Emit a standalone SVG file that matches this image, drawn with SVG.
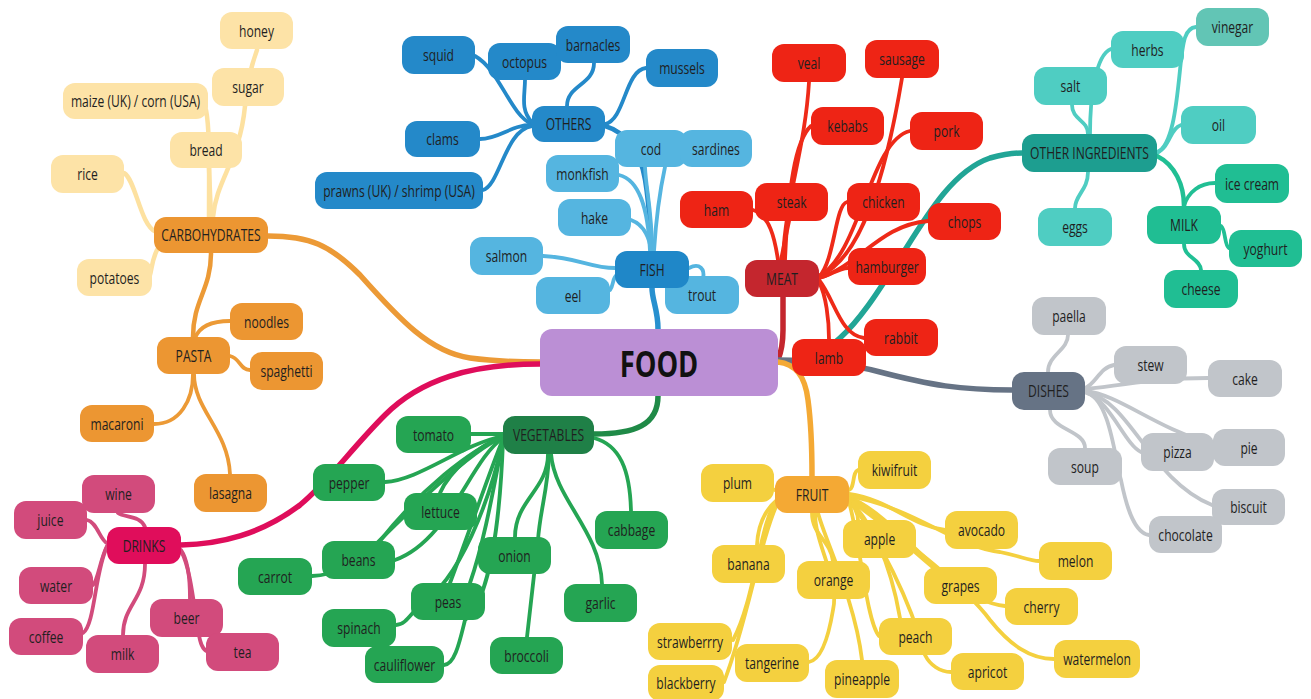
<svg xmlns="http://www.w3.org/2000/svg" width="1311" height="699" viewBox="0 0 1311 699">
<style>
rect{rx:12px;ry:12px}
text{font-family:"Open Sans","Noto Sans","DejaVu Sans",sans-serif;font-size:15.5px;fill:#1f1f1f;text-anchor:middle;dominant-baseline:central;transform-box:fill-box;transform-origin:center;transform:scaleX(0.78)}
#connectors path{fill:none;stroke-linecap:round}
.w5{stroke-width:5.5}.w4{stroke-width:4.5}.w3{stroke-width:3.8}
.s-cl{stroke:#fde1a0}.s-co{stroke:#ec9a36}.s-cb{stroke:#2489c9}.s-cf{stroke:#55b5e0}.s-fm{stroke:#2790cf}
.s-cm{stroke:#ee2a18}.s-mm{stroke:#c4262e}.s-ct{stroke:#4fcdc2}.s-mk{stroke:#21bf94}.s-oi{stroke:#21a596}
.s-cd{stroke:#c1c5ca}.s-dm{stroke:#667385}.s-cfr{stroke:#f4d03f}.s-frm{stroke:#f4a934}
.s-cv{stroke:#25a553}.s-vm{stroke:#1f8a47}.s-cdr{stroke:#d24b7c}.s-drm{stroke:#df0d5b}
.f-cl rect{fill:#fde3a7}.f-co rect{fill:#ec9632}.f-cb rect{fill:#2489c9}.f-cf rect{fill:#55b5e0}.f-fm rect{fill:#1f87c8}
.f-cm rect{fill:#ee2415}.f-mm rect{fill:#c4262e}.f-ct rect{fill:#4fcdc2}.f-vin rect{fill:#62c5b5}.f-oi rect{fill:#1d9e90}.f-mk rect{fill:#20be93}
.f-cd rect{fill:#c1c5ca}.f-dm rect{fill:#667385}.f-cfr rect{fill:#f4d03f}.f-frm rect{fill:#f4a934}
.f-cv rect{fill:#25a553}.f-vm rect{fill:#1f8047}.f-cdr rect{fill:#d24b7c}.f-drm rect{fill:#e00d5b}
.f-food rect{fill:#bb8fd5}
.f-food text{font-size:35px;font-weight:bold;fill:#111}
</style>
<g id="connectors">
<!-- main branches -->
<path class="w5 s-co" d="M268,236 C310,236 330,245 360,275 C400,320 430,352 470,358 C500,362 520,362 540,362"/>
<path class="w5 s-drm" d="M540,364 C470,364 420,380 385,415 C350,450 330,480 300,505 C260,535 220,544 181,545"/>
<path class="w5 s-vm" d="M658,396 C658,425 635,434 594,434"/>
<path class="w5 s-fm" d="M652,288 C652,300 658,310 658,329"/>
<path class="w5 s-mm" d="M783,297 L783,330 C783,345 780,355 778,360"/>
<path class="w5 s-oi" d="M778,362 C810,362 825,352 840,338 C865,315 885,280 905,250 C930,210 955,170 990,158 C1005,154 1015,153 1022,153"/>
<path class="w5 s-dm" d="M778,360 C820,360 850,364 880,372 C930,385 960,390 1012,390"/>
<path class="w5 s-frm" d="M778,362 C795,364 805,375 808,400 C812,430 812,460 812,476"/>
<!-- carbohydrates -->
<path class="w4 s-cl" d="M211,217 L209,168"/>
<path class="w4 s-cl" d="M209,217 C209,170 210,130 206,110"/>
<path class="w4 s-cl" d="M213,217 C216,180 240,160 245,106"/>
<path class="w4 s-cl" d="M245,106 C246,90 248,75 257,50"/>
<path class="w4 s-cl" d="M156,232 C140,225 136,180 124,173"/>
<path class="w4 s-cl" d="M157,250 C152,260 152,268 150,275"/>
<path class="w4 s-co" d="M211,253 C211,290 193,300 193,337"/>
<path class="w3 s-co" d="M195,338 C200,325 215,321 230,321"/>
<path class="w3 s-co" d="M230,356 C240,358 240,370 250,370"/>
<path class="w3 s-co" d="M193,374 C193,400 180,424 154,424"/>
<path class="w3 s-co" d="M194,374 C194,410 228,430 230,474"/>
<!-- others -->
<path class="w4 s-cb" d="M605,126 C625,132 640,150 645,180 C650,210 650,235 652,251"/>
<path class="w3 s-cb" d="M532,124 C510,115 500,70 475,56"/>
<path class="w3 s-cb" d="M532,122 C520,110 525,95 525,80"/>
<path class="w3 s-cb" d="M567,106 C567,85 594,85 594,63"/>
<path class="w3 s-cb" d="M605,124 C625,120 625,70 646,68"/>
<path class="w3 s-cb" d="M532,125 C510,125 500,139 480,139"/>
<path class="w3 s-cb" d="M532,126 C505,130 500,185 483,190"/>
<!-- fish -->
<path class="w3 s-cf" d="M652,251 C652,210 646,190 645,167"/>
<path class="w3 s-cf" d="M654,251 C656,220 660,190 665,167"/>
<path class="w3 s-cf" d="M619,175 C640,180 648,210 650,251"/>
<path class="w3 s-cf" d="M631,220 C645,225 650,240 651,251"/>
<path class="w3 s-cf" d="M543,256 C580,258 590,268 615,268"/>
<path class="w3 s-cf" d="M610,290 C614,285 612,278 617,275"/>
<path class="w3 s-cf" d="M689,268 C700,262 705,270 703,278"/>
<!-- meat -->
<path class="w3 s-cm" d="M783,260 C785,200 805,150 809,82"/>
<path class="w3 s-cm" d="M785,260 C788,190 795,140 811,126"/>
<path class="w3 s-cm" d="M781,260 L789,221"/>
<path class="w3 s-cm" d="M778,260 C775,240 770,215 753,210"/>
<path class="w3 s-cm" d="M819,276 C860,260 885,180 902,78"/>
<path class="w3 s-cm" d="M819,276 C860,255 870,140 910,131"/>
<path class="w3 s-cm" d="M819,277 C835,260 835,205 847,202"/>
<path class="w3 s-cm" d="M819,278 C860,265 880,225 928,221"/>
<path class="w3 s-cm" d="M819,278 C830,276 838,268 848,268"/>
<path class="w3 s-cm" d="M819,280 C835,300 840,335 864,338"/>
<path class="w3 s-cm" d="M819,282 C826,295 829,320 829,339"/>
<!-- other ingredients -->
<path class="w3 s-ct" d="M1072,105 C1072,120 1088,120 1088,134"/>
<path class="w3 s-ct" d="M1090,134 C1090,100 1095,55 1111,49"/>
<path class="w3 s-ct" d="M1157,153 C1172,145 1176,110 1180,70 C1183,40 1185,28 1196,27"/>
<path class="w3 s-ct" d="M1157,152 C1170,148 1170,128 1181,125"/>
<path class="w3 s-ct" d="M1088,172 C1088,190 1075,195 1075,208"/>
<path class="w4 s-mk" d="M1157,156 C1175,165 1184,185 1184,206"/>
<path class="w3 s-mk" d="M1184,206 C1188,192 1200,183 1215,183"/>
<path class="w3 s-mk" d="M1221,226 C1226,230 1224,245 1229,248"/>
<path class="w3 s-mk" d="M1184,244 C1184,258 1200,258 1201,270"/>
<!-- dishes -->
<path class="w3 s-cd" d="M1048,372 C1048,355 1068,350 1068,335"/>
<path class="w3 s-cd" d="M1085,388 C1095,385 1100,367 1114,365"/>
<path class="w3 s-cd" d="M1085,389 C1130,385 1150,378 1208,378"/>
<path class="w3 s-cd" d="M1085,392 C1110,400 1125,445 1141,452"/>
<path class="w3 s-cd" d="M1085,391 C1120,395 1150,425 1213,445"/>
<path class="w3 s-cd" d="M1050,410 C1050,430 1085,430 1085,448"/>
<path class="w3 s-cd" d="M1087,393 C1130,400 1150,480 1212,505"/>
<path class="w3 s-cd" d="M1087,393 C1110,400 1115,460 1121,480 C1127,510 1135,533 1149,535"/>
<!-- fruit -->
<path class="w3 s-cfr" d="M775,490 L770,488"/>
<path class="w3 s-cfr" d="M849,490 C855,488 852,472 858,470"/>
<path class="w3 s-cfr" d="M847,500 C855,505 858,515 858,520"/>
<path class="w3 s-cfr" d="M849,494 C890,500 910,525 945,530"/>
<path class="w3 s-cfr" d="M849,496 C920,510 950,545 1000,552 C1020,556 1030,561 1039,561"/>
<path class="w3 s-cfr" d="M849,497 C880,510 910,545 935,567"/>
<path class="w3 s-cfr" d="M849,498 C890,520 950,600 1005,606"/>
<path class="w3 s-cfr" d="M849,499 C890,530 960,580 990,620 C1010,645 1030,659 1054,659"/>
<path class="w3 s-cfr" d="M849,500 C870,520 890,560 900,618"/>
<path class="w3 s-cfr" d="M849,500 C880,540 910,600 925,655 C930,665 940,672 951,672"/>
<path class="w3 s-cfr" d="M849,502 C860,540 866,620 879,636"/>
<path class="w3 s-cfr" d="M777,500 C765,510 758,525 757,545"/>
<path class="w3 s-cfr" d="M777,500 C760,520 755,600 733,640"/>
<path class="w3 s-cfr" d="M778,502 C760,540 748,620 724,682"/>
<path class="w3 s-cfr" d="M812,513 C812,535 830,540 833,561"/>
<path class="w3 s-cfr" d="M815,513 C815,545 840,580 833,610 C828,640 820,660 809,662"/>
<path class="w3 s-cfr" d="M818,513 C825,540 855,600 862,660"/>
<!-- vegetables -->
<path class="w3 s-cv" d="M503,434 L471,434"/>
<path class="w3 s-cv" d="M503,436 C460,445 420,480 385,482"/>
<path class="w3 s-cv" d="M503,436 C480,445 450,470 440,493"/>
<path class="w3 s-cv" d="M503,437 C470,450 420,490 380,541"/>
<path class="w3 s-cv" d="M503,438 C470,460 450,540 395,560"/>
<path class="w3 s-cv" d="M503,437 C470,450 400,520 370,550 C350,570 330,575 312,576"/>
<path class="w3 s-cv" d="M503,439 C490,470 470,530 450,583"/>
<path class="w3 s-cv" d="M503,440 C495,480 485,540 470,583"/>
<path class="w3 s-cv" d="M503,440 C490,500 460,580 420,605 C410,615 405,625 396,625"/>
<path class="w3 s-cv" d="M503,441 C500,520 490,600 465,620 C460,640 455,665 444,665"/>
<path class="w3 s-cv" d="M548,454 C548,490 515,500 515,537"/>
<path class="w3 s-cv" d="M549,454 C548,490 540,510 538,540 L527,637"/>
<path class="w3 s-cv" d="M551,454 C555,500 600,530 602,584"/>
<path class="w3 s-cv" d="M594,438 C620,445 630,470 631,511"/>
<!-- drinks -->
<path class="w3 s-cdr" d="M145,527 C140,515 125,518 118,513"/>
<path class="w3 s-cdr" d="M87,520 C97,522 100,540 107,543"/>
<path class="w3 s-cdr" d="M107,546 C100,560 98,580 93,585"/>
<path class="w3 s-cdr" d="M107,547 C95,570 95,625 83,633"/>
<path class="w3 s-cdr" d="M145,564 C145,600 123,605 123,635"/>
<path class="w3 s-cdr" d="M181,550 C188,560 190,580 190,599"/>
<path class="w3 s-cdr" d="M181,551 C192,570 195,620 200,640 C202,648 205,652 210,652"/>
</g>
<!-- FOOD -->
<g id="n-food" class="f-food"><rect x="540" y="329" width="238" height="67"/><text x="659" y="363">FOOD</text></g>
<!-- Carbohydrates -->
<g id="n-carbohydrates" class="f-co"><rect x="154" y="217" width="114" height="36"/><text x="211" y="235">CARBOHYDRATES</text></g>
<g id="n-honey" class="f-cl"><rect x="220" y="12" width="73" height="37"/><text x="256.5" y="30.5">honey</text></g>
<g id="n-sugar" class="f-cl"><rect x="212" y="68" width="72" height="38"/><text x="248" y="87">sugar</text></g>
<g id="n-maize" class="f-cl"><rect x="63" y="83" width="145" height="36"/><text x="135.5" y="101">maize (UK) / corn (USA)</text></g>
<g id="n-bread" class="f-cl"><rect x="170" y="132" width="72" height="36"/><text x="206" y="150">bread</text></g>
<g id="n-rice" class="f-cl"><rect x="51" y="155" width="73" height="38"/><text x="87.5" y="174">rice</text></g>
<g id="n-potatoes" class="f-cl"><rect x="77" y="259" width="75" height="37"/><text x="114.5" y="277.5">potatoes</text></g>
<g id="n-pasta" class="f-co"><rect x="157" y="337" width="73" height="37"/><text x="193.5" y="355.5">PASTA</text></g>
<g id="n-noodles" class="f-co"><rect x="230" y="303" width="73" height="37"/><text x="266.5" y="321.5">noodles</text></g>
<g id="n-spaghetti" class="f-co"><rect x="250" y="352" width="73" height="38"/><text x="286.5" y="371">spaghetti</text></g>
<g id="n-macaroni" class="f-co"><rect x="80" y="405" width="74" height="37"/><text x="117" y="423.5">macaroni</text></g>
<g id="n-lasagna" class="f-co"><rect x="194" y="474" width="73" height="38"/><text x="230.5" y="493">lasagna</text></g>
<!-- Others / Fish -->
<g id="n-squid" class="f-cb"><rect x="402" y="36" width="73" height="38"/><text x="438.5" y="55">squid</text></g>
<g id="n-octopus" class="f-cb"><rect x="488" y="43" width="73" height="37"/><text x="524.5" y="61.5">octopus</text></g>
<g id="n-barnacles" class="f-cb"><rect x="556" y="26" width="74" height="37"/><text x="593" y="44.5">barnacles</text></g>
<g id="n-others" class="f-cb"><rect x="532" y="106" width="73" height="36"/><text x="568.5" y="124">OTHERS</text></g>
<g id="n-mussels" class="f-cb"><rect x="646" y="49" width="72" height="38"/><text x="682" y="68">mussels</text></g>
<g id="n-clams" class="f-cb"><rect x="405" y="121" width="75" height="36"/><text x="442.5" y="139">clams</text></g>
<g id="n-prawns" class="f-cb"><rect x="315" y="172" width="168" height="37"/><text x="399" y="190.5">prawns (UK) / shrimp (USA)</text></g>
<g id="n-cod" class="f-cf"><rect x="615" y="130" width="72" height="37"/><text x="651" y="148.5">cod</text></g>
<g id="n-sardines" class="f-cf"><rect x="680" y="130" width="72" height="37"/><text x="716" y="148.5">sardines</text></g>
<g id="n-monkfish" class="f-cf"><rect x="546" y="155" width="73" height="37"/><text x="582.5" y="173.5">monkfish</text></g>
<g id="n-hake" class="f-cf"><rect x="558" y="199" width="73" height="37"/><text x="594.5" y="217.5">hake</text></g>
<g id="n-salmon" class="f-cf"><rect x="470" y="237" width="73" height="38"/><text x="506.5" y="256">salmon</text></g>
<g id="n-eel" class="f-cf"><rect x="536" y="277" width="74" height="37"/><text x="573" y="295.5">eel</text></g>
<g id="n-trout" class="f-cf"><rect x="665" y="276" width="74" height="38"/><text x="702" y="295">trout</text></g>
<g id="n-fish" class="f-fm"><rect x="615" y="251" width="74" height="37"/><text x="652" y="269.5">FISH</text></g>
<!-- Meat -->
<g id="n-veal" class="f-cm"><rect x="772" y="44" width="74" height="38"/><text x="809" y="63">veal</text></g>
<g id="n-sausage" class="f-cm"><rect x="865" y="40" width="74" height="38"/><text x="902" y="59">sausage</text></g>
<g id="n-kebabs" class="f-cm"><rect x="811" y="107" width="73" height="38"/><text x="847.5" y="126">kebabs</text></g>
<g id="n-pork" class="f-cm"><rect x="910" y="112" width="73" height="38"/><text x="946.5" y="131">pork</text></g>
<g id="n-ham" class="f-cm"><rect x="680" y="191" width="73" height="37"/><text x="716.5" y="209.5">ham</text></g>
<g id="n-steak" class="f-cm"><rect x="755" y="183" width="73" height="38"/><text x="791.5" y="202">steak</text></g>
<g id="n-chicken" class="f-cm"><rect x="847" y="183" width="73" height="38"/><text x="883.5" y="202">chicken</text></g>
<g id="n-chops" class="f-cm"><rect x="928" y="203" width="73" height="37"/><text x="964.5" y="221.5">chops</text></g>
<g id="n-hamburger" class="f-cm"><rect x="848" y="248" width="78" height="37"/><text x="887" y="266.5">hamburger</text></g>
<g id="n-rabbit" class="f-cm"><rect x="864" y="319" width="74" height="37"/><text x="901" y="337.5">rabbit</text></g>
<g id="n-lamb" class="f-cm"><rect x="792" y="339" width="74" height="37"/><text x="829" y="357.5">lamb</text></g>
<g id="n-meat" class="f-mm"><rect x="745" y="260" width="74" height="37"/><text x="782" y="278.5">MEAT</text></g>
<!-- Other ingredients -->
<g id="n-vinegar" class="f-vin"><rect x="1196" y="8" width="73" height="38"/><text x="1232.5" y="27">vinegar</text></g>
<g id="n-herbs" class="f-ct"><rect x="1111" y="31" width="73" height="37"/><text x="1147.5" y="49.5">herbs</text></g>
<g id="n-salt" class="f-ct"><rect x="1034" y="67" width="73" height="38"/><text x="1070.5" y="86">salt</text></g>
<g id="n-oil" class="f-ct"><rect x="1181" y="106" width="75" height="38"/><text x="1218.5" y="125">oil</text></g>
<g id="n-eggs" class="f-ct"><rect x="1038" y="208" width="74" height="38"/><text x="1075" y="227">eggs</text></g>
<g id="n-other-ingredients" class="f-oi"><rect x="1022" y="134" width="135" height="38"/><text x="1089.5" y="153">OTHER INGREDIENTS</text></g>
<g id="n-ice-cream" class="f-mk"><rect x="1215" y="164" width="74" height="39"/><text x="1252" y="183.5">ice cream</text></g>
<g id="n-yoghurt" class="f-mk"><rect x="1229" y="230" width="73" height="37"/><text x="1265.5" y="248.5">yoghurt</text></g>
<g id="n-milk-dairy" class="f-mk"><rect x="1147" y="206" width="74" height="38"/><text x="1184" y="225">MILK</text></g>
<g id="n-cheese" class="f-mk"><rect x="1164" y="270" width="74" height="38"/><text x="1201" y="289">cheese</text></g>
<!-- Dishes -->
<g id="n-paella" class="f-cd"><rect x="1032" y="297" width="74" height="38"/><text x="1069" y="316">paella</text></g>
<g id="n-stew" class="f-cd"><rect x="1114" y="346" width="73" height="38"/><text x="1150.5" y="365">stew</text></g>
<g id="n-cake" class="f-cd"><rect x="1208" y="360" width="74" height="37"/><text x="1245" y="378.5">cake</text></g>
<g id="n-pie" class="f-cd"><rect x="1213" y="429" width="72" height="37"/><text x="1249" y="447.5">pie</text></g>
<g id="n-pizza" class="f-cd"><rect x="1141" y="433" width="73" height="38"/><text x="1177.5" y="452">pizza</text></g>
<g id="n-soup" class="f-cd"><rect x="1048" y="448" width="74" height="37"/><text x="1085" y="466.5">soup</text></g>
<g id="n-biscuit" class="f-cd"><rect x="1212" y="489" width="73" height="36"/><text x="1248.5" y="507">biscuit</text></g>
<g id="n-chocolate" class="f-cd"><rect x="1149" y="516" width="73" height="37"/><text x="1185.5" y="534.5">chocolate</text></g>
<g id="n-dishes" class="f-dm"><rect x="1012" y="372" width="73" height="38"/><text x="1048.5" y="391">DISHES</text></g>
<!-- Fruit -->
<g id="n-plum" class="f-cfr"><rect x="701" y="464" width="73" height="38"/><text x="737.5" y="483">plum</text></g>
<g id="n-kiwifruit" class="f-cfr"><rect x="858" y="451" width="73" height="38"/><text x="894.5" y="470">kiwifruit</text></g>
<g id="n-apple" class="f-cfr"><rect x="843" y="520" width="73" height="38"/><text x="879.5" y="539">apple</text></g>
<g id="n-avocado" class="f-cfr"><rect x="945" y="511" width="73" height="38"/><text x="981.5" y="530">avocado</text></g>
<g id="n-banana" class="f-cfr"><rect x="712" y="545" width="73" height="38"/><text x="748.5" y="564">banana</text></g>
<g id="n-orange" class="f-cfr"><rect x="797" y="561" width="73" height="38"/><text x="833.5" y="580">orange</text></g>
<g id="n-grapes" class="f-cfr"><rect x="924" y="567" width="73" height="37"/><text x="960.5" y="585.5">grapes</text></g>
<g id="n-melon" class="f-cfr"><rect x="1039" y="542" width="73" height="38"/><text x="1075.5" y="561">melon</text></g>
<g id="n-cherry" class="f-cfr"><rect x="1005" y="588" width="73" height="37"/><text x="1041.5" y="606.5">cherry</text></g>
<g id="n-peach" class="f-cfr"><rect x="879" y="618" width="73" height="37"/><text x="915.5" y="636.5">peach</text></g>
<g id="n-apricot" class="f-cfr"><rect x="951" y="653" width="73" height="37"/><text x="987.5" y="671.5">apricot</text></g>
<g id="n-watermelon" class="f-cfr"><rect x="1054" y="640" width="86" height="38"/><text x="1097" y="659">watermelon</text></g>
<g id="n-strawberrry" class="f-cfr"><rect x="648" y="623" width="84" height="37"/><text x="690" y="641.5">strawberrry</text></g>
<g id="n-blackberry" class="f-cfr"><rect x="648" y="665" width="76" height="36"/><text x="686" y="683">blackberry</text></g>
<g id="n-tangerine" class="f-cfr"><rect x="735" y="644" width="74" height="38"/><text x="772" y="663">tangerine</text></g>
<g id="n-pineapple" class="f-cfr"><rect x="825" y="660" width="74" height="38"/><text x="862" y="679">pineapple</text></g>
<g id="n-fruit" class="f-frm"><rect x="775" y="476" width="74" height="37"/><text x="812" y="494.5">FRUIT</text></g>
<!-- Vegetables -->
<g id="n-tomato" class="f-cv"><rect x="396" y="416" width="75" height="37"/><text x="433.5" y="434.5">tomato</text></g>
<g id="n-pepper" class="f-cv"><rect x="313" y="464" width="72" height="37"/><text x="349" y="482.5">pepper</text></g>
<g id="n-lettuce" class="f-cv"><rect x="404" y="493" width="73" height="37"/><text x="440.5" y="511.5">lettuce</text></g>
<g id="n-beans" class="f-cv"><rect x="322" y="541" width="73" height="38"/><text x="358.5" y="560">beans</text></g>
<g id="n-carrot" class="f-cv"><rect x="238" y="558" width="74" height="37"/><text x="275" y="576.5">carrot</text></g>
<g id="n-onion" class="f-cv"><rect x="478" y="537" width="73" height="37"/><text x="514.5" y="555.5">onion</text></g>
<g id="n-cabbage" class="f-cv"><rect x="595" y="511" width="73" height="38"/><text x="631.5" y="530">cabbage</text></g>
<g id="n-peas" class="f-cv"><rect x="411" y="583" width="74" height="37"/><text x="448" y="601.5">peas</text></g>
<g id="n-garlic" class="f-cv"><rect x="564" y="584" width="73" height="38"/><text x="600.5" y="603">garlic</text></g>
<g id="n-spinach" class="f-cv"><rect x="322" y="609" width="74" height="38"/><text x="359" y="628">spinach</text></g>
<g id="n-cauliflower" class="f-cv"><rect x="365" y="646" width="79" height="37"/><text x="404.5" y="664.5">cauliflower</text></g>
<g id="n-broccoli" class="f-cv"><rect x="490" y="637" width="73" height="37"/><text x="526.5" y="655.5">broccoli</text></g>
<g id="n-vegetables" class="f-vm"><rect x="503" y="416" width="91" height="38"/><text x="548.5" y="435">VEGETABLES</text></g>
<!-- Drinks -->
<g id="n-wine" class="f-cdr"><rect x="82" y="475" width="73" height="38"/><text x="118.5" y="494">wine</text></g>
<g id="n-juice" class="f-cdr"><rect x="14" y="501" width="73" height="38"/><text x="50.5" y="520">juice</text></g>
<g id="n-water" class="f-cdr"><rect x="19" y="567" width="74" height="37"/><text x="56" y="585.5">water</text></g>
<g id="n-coffee" class="f-cdr"><rect x="9" y="618" width="74" height="37"/><text x="46" y="636.5">coffee</text></g>
<g id="n-milk" class="f-cdr"><rect x="86" y="635" width="73" height="38"/><text x="122.5" y="654">milk</text></g>
<g id="n-beer" class="f-cdr"><rect x="150" y="599" width="73" height="38"/><text x="186.5" y="618">beer</text></g>
<g id="n-tea" class="f-cdr"><rect x="206" y="633" width="73" height="38"/><text x="242.5" y="652">tea</text></g>
<g id="n-drinks" class="f-drm"><rect x="107" y="527" width="74" height="37"/><text x="144" y="545.5">DRINKS</text></g>
</svg>
